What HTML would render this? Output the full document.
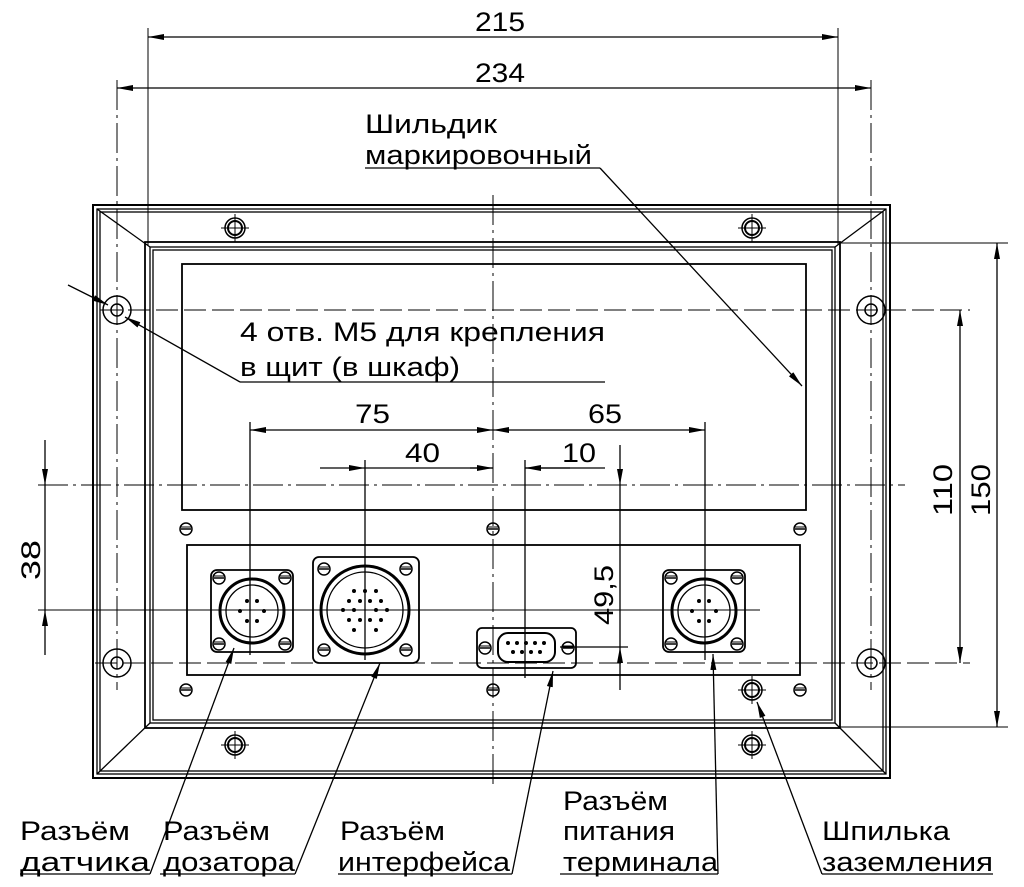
<!DOCTYPE html>
<html><head><meta charset="utf-8"><style>
html,body{margin:0;padding:0;background:#fff;}
svg{display:block}
text{font-family:"Liberation Sans","DejaVu Sans",sans-serif;font-size:27px;fill:#000}
</style></head><body>
<svg width="1024" height="887" viewBox="0 0 1024 887" xmlns="http://www.w3.org/2000/svg">
<defs>
<marker id="a" viewBox="0 0 16 6" refX="16" refY="3" markerWidth="16" markerHeight="6" orient="auto-start-reverse" markerUnits="userSpaceOnUse"><path d="M0,0 L16,3 L0,6 Z" fill="#000"/></marker>
<g id="scr"><circle r="6" fill="none" stroke="#000" stroke-width="1.5"/><line x1="-5" y1="0" x2="5" y2="0" stroke="#000" stroke-width="1.5"/><line x1="-5" y1="-2" x2="5" y2="-2" stroke="#000"/></g>
<g id="tscr"><circle r="10" fill="none" stroke="#000" stroke-width="1.5"/><circle r="7" fill="none" stroke="#000" stroke-width="2"/><line x1="-14" y1="0" x2="14" y2="0" stroke="#000"/><line x1="0" y1="-14" x2="0" y2="14" stroke="#000"/></g>
<g id="mh"><circle r="14" fill="none" stroke="#000" stroke-width="1.5"/><circle r="6" fill="none" stroke="#000" stroke-width="1.5"/></g>
</defs>
<g stroke="#000" fill="none" stroke-width="1.3">
<rect x="93" y="205" width="797" height="573" stroke-width="2"/>
<rect x="97" y="209" width="789" height="565"/>
<rect x="100" y="212" width="783" height="559"/>
<rect x="145" y="242" width="695" height="486" stroke-width="1.8"/>
<rect x="150" y="247" width="685" height="476"/>
<rect x="153" y="250" width="679" height="470"/>
<line x1="97" y1="209" x2="150" y2="247"/><line x1="886" y1="209" x2="835" y2="247"/>
<line x1="97" y1="774" x2="150" y2="723"/><line x1="886" y1="774" x2="835" y2="723"/>
<rect x="182" y="264" width="624" height="246" stroke-width="1.8"/>
<rect x="187" y="545" width="613" height="130" stroke-width="1.8"/>
<g stroke-width="1">
<line x1="493" y1="195" x2="493" y2="785" stroke-dasharray="30,5,3,5"/>
<line x1="117" y1="80" x2="117" y2="690" stroke-dasharray="30,5,3,5"/>
<line x1="871" y1="80" x2="871" y2="690" stroke-dasharray="30,5,3,5"/>
<line x1="148" y1="28" x2="148" y2="245"/>
<line x1="838" y1="28" x2="838" y2="245"/>
<line x1="100" y1="310" x2="970" y2="310" stroke-dasharray="22,6"/>
<line x1="95" y1="663" x2="970" y2="663" stroke-dasharray="22,6"/>
<line x1="38" y1="485" x2="905" y2="485" stroke-dasharray="30,5,3,5"/>
<line x1="38" y1="610" x2="760" y2="610"/>
<line x1="840" y1="243" x2="1008" y2="243"/>
<line x1="840" y1="727" x2="1008" y2="727"/>
</g>
<line x1="148" y1="37" x2="838" y2="37" marker-start="url(#a)" marker-end="url(#a)"/>
<line x1="117" y1="88" x2="871" y2="88" marker-start="url(#a)" marker-end="url(#a)"/>
<line x1="997" y1="243" x2="997" y2="727" marker-start="url(#a)" marker-end="url(#a)"/>
<line x1="960" y1="310" x2="960" y2="663" marker-start="url(#a)" marker-end="url(#a)"/>
<line x1="45" y1="440" x2="45" y2="485" marker-end="url(#a)"/>
<line x1="45" y1="655" x2="45" y2="610" marker-end="url(#a)"/>
<line x1="45" y1="485" x2="45" y2="610"/>
<line x1="250" y1="422" x2="250" y2="655"/>
<line x1="705" y1="422" x2="705" y2="660"/>
<line x1="250" y1="430" x2="493" y2="430" marker-start="url(#a)" marker-end="url(#a)"/>
<line x1="493" y1="430" x2="705" y2="430" marker-start="url(#a)" marker-end="url(#a)"/>
<line x1="365" y1="460" x2="365" y2="660"/>
<line x1="525" y1="460" x2="525" y2="678"/>
<line x1="320" y1="468" x2="365" y2="468" marker-end="url(#a)"/>
<line x1="365" y1="468" x2="493" y2="468"/>
<line x1="470" y1="468" x2="493" y2="468" marker-end="url(#a)"/>
<line x1="570" y1="468" x2="525" y2="468" marker-end="url(#a)"/>
<line x1="525" y1="468" x2="605" y2="468"/>
<line x1="620" y1="445" x2="620" y2="485" marker-end="url(#a)"/>
<line x1="620" y1="690" x2="620" y2="647" marker-end="url(#a)"/>
<line x1="620" y1="485" x2="620" y2="647"/>
<line x1="560" y1="647" x2="628" y2="647"/>
<line x1="240" y1="382" x2="605" y2="382"/>
<line x1="240" y1="382" x2="125" y2="317" marker-end="url(#a)"/>
<line x1="68" y1="285" x2="108" y2="305" marker-end="url(#a)"/>
<line x1="365" y1="168" x2="600" y2="168"/>
<line x1="600" y1="168" x2="802" y2="386" marker-end="url(#a)"/>
<line x1="20" y1="874" x2="150" y2="874"/><line x1="150" y1="874" x2="234" y2="648" marker-end="url(#a)"/>
<line x1="160" y1="874" x2="295" y2="874"/><line x1="295" y1="874" x2="380" y2="663" marker-end="url(#a)"/>
<line x1="338" y1="874" x2="512" y2="874"/><line x1="512" y1="874" x2="553" y2="671" marker-end="url(#a)"/>
<line x1="560" y1="874" x2="718" y2="874"/><line x1="718" y1="874" x2="713" y2="654" marker-end="url(#a)"/>
<line x1="822" y1="874" x2="993" y2="874"/><line x1="822" y1="874" x2="757" y2="702" marker-end="url(#a)"/>
<rect x="211" y="570" width="82" height="82" rx="6" stroke-width="1.8"/>
<circle cx="252" cy="611" r="32" stroke-width="3"/><circle cx="252" cy="611" r="26"/>
<rect x="313" y="557" width="106" height="106" rx="6" stroke-width="1.8"/>
<circle cx="365" cy="610" r="44" stroke-width="3"/><circle cx="365" cy="610" r="38"/>
<rect x="477" y="628" width="99" height="40" rx="5" stroke-width="1.8"/>
<rect x="498" y="633" width="57" height="29" rx="10" stroke-width="2"/>
<rect x="663" y="570" width="82" height="82" rx="6" stroke-width="1.8"/>
<circle cx="704" cy="611" r="32" stroke-width="3"/><circle cx="704" cy="611" r="26"/>
</g>
<g fill="#000">
<circle cx="247" cy="601" r="2"/><circle cx="257" cy="601" r="2"/><circle cx="240" cy="611" r="2"/><circle cx="264" cy="611" r="2"/><circle cx="247" cy="621" r="2"/><circle cx="257" cy="621" r="2"/>
<circle cx="699" cy="601" r="2"/><circle cx="709" cy="601" r="2"/><circle cx="692" cy="611" r="2"/><circle cx="716" cy="611" r="2"/><circle cx="699" cy="621" r="2"/><circle cx="709" cy="621" r="2"/>
<circle cx="354" cy="591" r="2"/><circle cx="365" cy="591" r="2"/><circle cx="376" cy="591" r="2"/>
<circle cx="349" cy="601" r="2"/><circle cx="360" cy="601" r="2"/><circle cx="370" cy="601" r="2"/><circle cx="381" cy="601" r="2"/>
<circle cx="343" cy="610" r="2"/><circle cx="354" cy="610" r="2"/><circle cx="376" cy="610" r="2"/><circle cx="387" cy="610" r="2"/>
<circle cx="349" cy="620" r="2"/><circle cx="360" cy="620" r="2"/><circle cx="370" cy="620" r="2"/><circle cx="381" cy="620" r="2"/>
<circle cx="354" cy="630" r="2"/><circle cx="376" cy="630" r="2"/>
<circle cx="508" cy="643" r="2"/><circle cx="517" cy="643" r="2"/><circle cx="526" cy="643" r="2"/><circle cx="535" cy="643" r="2"/><circle cx="544" cy="643" r="2"/>
<circle cx="513" cy="652" r="2"/><circle cx="522" cy="652" r="2"/><circle cx="531" cy="652" r="2"/><circle cx="540" cy="652" r="2"/>
</g>
<use href="#mh" x="117" y="310"/><use href="#mh" x="871" y="310"/><use href="#mh" x="117" y="663"/><use href="#mh" x="871" y="663"/>
<use href="#tscr" x="235" y="228"/><use href="#tscr" x="752" y="228"/><use href="#tscr" x="235" y="745"/><use href="#tscr" x="752" y="745"/><use href="#tscr" x="752" y="690"/>
<use href="#scr" x="186" y="529"/><use href="#scr" x="493" y="529"/><use href="#scr" x="800" y="529"/>
<use href="#scr" x="186" y="690"/><use href="#scr" x="493" y="690"/><use href="#scr" x="800" y="690"/>
<use href="#scr" x="219" y="578"/><use href="#scr" x="285" y="578"/><use href="#scr" x="219" y="644"/><use href="#scr" x="285" y="644"/>
<use href="#scr" x="324" y="569"/><use href="#scr" x="406" y="569"/><use href="#scr" x="324" y="650"/><use href="#scr" x="406" y="650"/>
<use href="#scr" x="671" y="578"/><use href="#scr" x="737" y="578"/><use href="#scr" x="671" y="644"/><use href="#scr" x="737" y="644"/>
<use href="#scr" x="485" y="648"/><use href="#scr" x="568" y="648"/>
<text x="475" y="31" textLength="50" lengthAdjust="spacingAndGlyphs">215</text>
<text x="475" y="82" textLength="50" lengthAdjust="spacingAndGlyphs">234</text>
<text x="355" y="423" textLength="35" lengthAdjust="spacingAndGlyphs">75</text>
<text x="588" y="423" textLength="34" lengthAdjust="spacingAndGlyphs">65</text>
<text x="405" y="462" textLength="35" lengthAdjust="spacingAndGlyphs">40</text>
<text x="562" y="462" textLength="34" lengthAdjust="spacingAndGlyphs">10</text>
<text transform="translate(40,580) rotate(-90)" textLength="40" lengthAdjust="spacingAndGlyphs">38</text>
<text transform="translate(613,625) rotate(-90)" textLength="60" lengthAdjust="spacingAndGlyphs">49,5</text>
<text transform="translate(952,516) rotate(-90)" textLength="52" lengthAdjust="spacingAndGlyphs">110</text>
<text transform="translate(990,516) rotate(-90)" textLength="52" lengthAdjust="spacingAndGlyphs">150</text>
<text x="240" y="341" textLength="365" lengthAdjust="spacingAndGlyphs">4 отв. М5 для крепления</text>
<text x="240" y="376" textLength="220" lengthAdjust="spacingAndGlyphs">в щит (в шкаф)</text>
<text x="365" y="133" textLength="132" lengthAdjust="spacingAndGlyphs">Шильдик</text>
<text x="365" y="164" textLength="227" lengthAdjust="spacingAndGlyphs">маркировочный</text>
<text x="20" y="840" textLength="110" lengthAdjust="spacingAndGlyphs">Разъём</text><text x="20" y="871" textLength="130" lengthAdjust="spacingAndGlyphs">датчика</text>
<text x="163" y="840" textLength="107" lengthAdjust="spacingAndGlyphs">Разъём</text><text x="163" y="871" textLength="132" lengthAdjust="spacingAndGlyphs">дозатора</text>
<text x="340" y="840" textLength="105" lengthAdjust="spacingAndGlyphs">Разъём</text><text x="338" y="871" textLength="172" lengthAdjust="spacingAndGlyphs">интерфейса</text>
<text x="563" y="810" textLength="105" lengthAdjust="spacingAndGlyphs">Разъём</text><text x="563" y="840" textLength="112" lengthAdjust="spacingAndGlyphs">питания</text><text x="563" y="871" textLength="155" lengthAdjust="spacingAndGlyphs">терминала</text>
<text x="822" y="840" textLength="128" lengthAdjust="spacingAndGlyphs">Шпилька</text><text x="822" y="871" textLength="171" lengthAdjust="spacingAndGlyphs">заземления</text>
</svg>
</body></html>
